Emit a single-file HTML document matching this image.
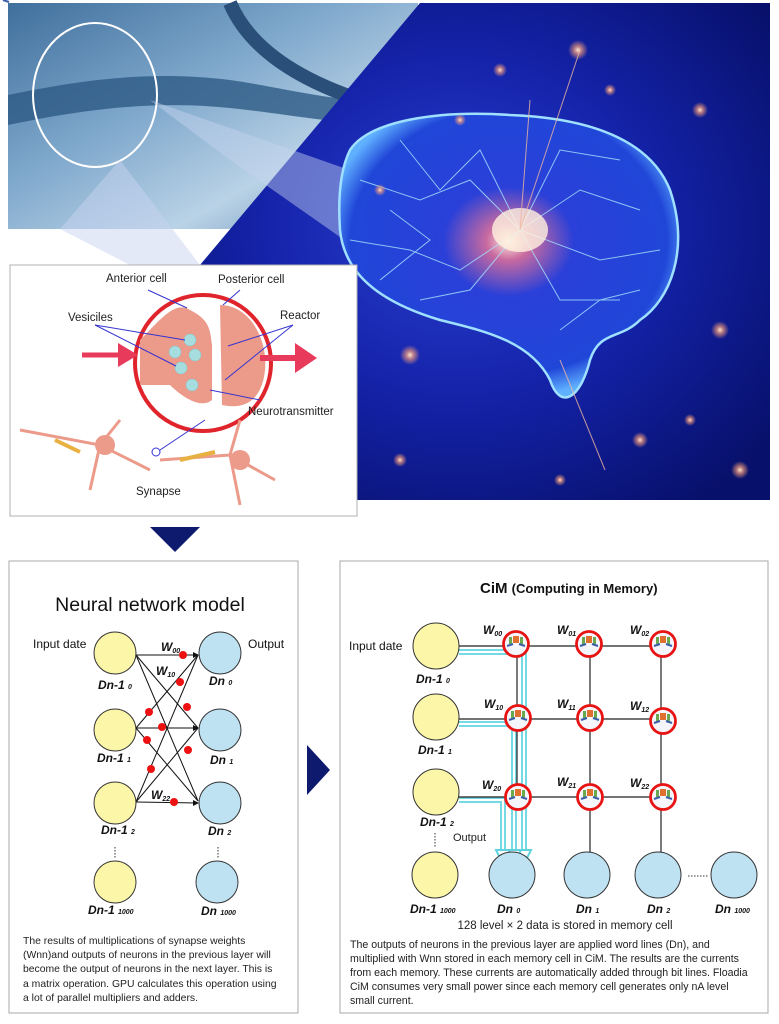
<!DOCTYPE html>
<html><head><meta charset="utf-8"><style>
html,body{margin:0;padding:0;background:#fff;}
svg{display:block;font-family:"Liberation Sans",sans-serif;}
</style></head><body>
<svg width="779" height="1024" viewBox="0 0 779 1024" xmlns="http://www.w3.org/2000/svg">
<defs>
<linearGradient id="nb" x1="0" y1="0" x2="1" y2="1">
<stop offset="0" stop-color="#3f6f9c"/><stop offset="0.4" stop-color="#7fa8cc"/><stop offset="0.7" stop-color="#b9d2e6"/><stop offset="1" stop-color="#5d87b0"/></linearGradient>
<radialGradient id="bb" cx="0.45" cy="0.45" r="0.7">
<stop offset="0" stop-color="#2a3fd0"/><stop offset="0.5" stop-color="#1422a8"/><stop offset="1" stop-color="#07106a"/></radialGradient>
<radialGradient id="brain" cx="0.5" cy="0.45" r="0.55">
<stop offset="0" stop-color="#ffe6d8"/><stop offset="0.12" stop-color="#c86aa0"/><stop offset="0.35" stop-color="#2a40d8"/><stop offset="0.85" stop-color="#2046d8"/><stop offset="1" stop-color="#5fb0ff"/></radialGradient>
<radialGradient id="star"><stop offset="0" stop-color="#ffe9d0"/><stop offset="0.4" stop-color="#f29a7a" stop-opacity="0.7"/><stop offset="1" stop-color="#f29a7a" stop-opacity="0"/></radialGradient>
</defs>
<!-- neuron photo -->
<rect x="8" y="3" width="410" height="226" fill="url(#nb)"/>
<path d="M8,95 C80,80 150,70 230,80 C300,90 360,110 418,95 L418,120 C360,130 300,115 230,108 C150,100 80,110 8,125Z" fill="#2d5a85" opacity="0.8"/>
<path d="M230,3 C250,50 300,80 360,100" stroke="#2a4f78" stroke-width="14" fill="none"/>
<ellipse cx="95" cy="95" rx="62" ry="72" fill="none" stroke="#fff" stroke-width="2"/>
<!-- brain bg -->
<path d="M420,3 L770,3 L770,500 L357,500 L357,265 L200,265 Z" fill="url(#bb)"/>
<path d="M150,100 L520,230 L380,265 L230,160Z" fill="#c8d4f0" opacity="0.45"/>
<path d="M60,229 L120,160 L200,265 L130,265Z" fill="#c8d4f0" opacity="0.5"/>
<path d="M350,150 C370,120 440,110 510,115 C590,118 650,140 670,190 C690,250 670,300 640,320 C620,340 600,330 590,360 C580,400 560,410 550,380 C530,340 480,330 440,320 C390,305 345,280 340,230 C338,200 340,170 350,150Z" fill="url(#brain)" stroke="#9fe0ff" stroke-width="2.5"/>
<g stroke="#a8e4ff" stroke-width="1" fill="none" opacity="0.8">
<path d="M360,180 L420,200 L470,180 L520,230 L580,190 L640,210"/><path d="M350,240 L410,250 L460,270 L520,230 L600,260 L660,250"/><path d="M400,140 L440,190 L480,150 L520,230 L560,150 L620,160"/><path d="M420,300 L470,290 L520,230 L560,300 L620,300"/><path d="M560,330 L600,300 L640,290"/><path d="M380,280 L430,240 L390,210"/></g>
<ellipse cx="520" cy="230" rx="28" ry="22" fill="#fff3e0" opacity="0.8"/>
<g fill="url(#star)">
<circle cx="578" cy="50" r="10"/><circle cx="410" cy="355" r="10"/><circle cx="700" cy="110" r="8"/><circle cx="720" cy="330" r="9"/><circle cx="500" cy="70" r="7"/><circle cx="640" cy="440" r="8"/><circle cx="400" cy="460" r="7"/><circle cx="740" cy="470" r="9"/><circle cx="460" cy="120" r="6"/><circle cx="610" cy="90" r="6"/><circle cx="380" cy="190" r="6"/><circle cx="690" cy="420" r="6"/><circle cx="560" cy="480" r="6"/></g>
<g stroke="#f0b8a0" stroke-width="1" fill="none" opacity="0.8"><path d="M520,230 L580,50"/><path d="M520,230 L530,100"/><path d="M560,360 L605,470"/></g>
<!-- synapse box -->
<rect x="10" y="265" width="347" height="251" fill="#fff" stroke="#b0b0b0"/>
<circle cx="203" cy="363" r="68" fill="none" stroke="#e0242c" stroke-width="4"/>
<path d="M140,340 C160,320 175,300 190,310 C210,320 210,330 212,345 L212,400 C200,410 180,395 170,385 L140,385Z" fill="#ec9a8a"/>
<path d="M220,305 C250,305 268,340 265,370 C262,400 245,410 222,405 Z" fill="#ec9a8a"/>
<g fill="#a8dde0" stroke="#7cc" stroke-width="0.5"><circle cx="190" cy="340" r="6"/><circle cx="175" cy="352" r="6"/><circle cx="195" cy="355" r="6"/><circle cx="181" cy="368" r="6"/><circle cx="192" cy="385" r="6"/></g>
<path d="M82,355 L128,355" stroke="#e83a5a" stroke-width="5"/><path d="M118,343 L138,355 L118,367Z" fill="#e83a5a"/>
<path d="M260,358 L300,358" stroke="#e83a5a" stroke-width="6"/><path d="M295,343 L317,358 L295,373Z" fill="#e83a5a"/>
<g stroke="#3434d0" stroke-width="1" fill="none">
<path d="M148,290 L187,308"/><path d="M240,290 L223,305"/><path d="M95,325 L185,340"/><path d="M95,325 L176,366"/><path d="M293,325 L228,346"/><path d="M293,325 L225,380"/><path d="M260,400 L210,390"/><path d="M205,420 L160,450"/></g>
<circle cx="156" cy="452" r="4" fill="none" stroke="#3434d0"/>
<g stroke="#ec9a8a" stroke-width="3" fill="none"><path d="M20,430 L100,445 L150,470"/><path d="M100,445 L90,490"/><path d="M100,445 L120,420"/><path d="M160,460 L230,455 L275,480"/><path d="M230,455 L240,505"/><path d="M230,455 L240,420"/></g>
<circle cx="105" cy="445" r="10" fill="#ec9a8a"/><circle cx="240" cy="460" r="10" fill="#ec9a8a"/>
<path d="M55,440 L80,452" stroke="#e8b040" stroke-width="4"/><path d="M180,460 L215,452" stroke="#e8b040" stroke-width="4"/>
<g font-size="11.5" fill="#222"><text x="106" y="282">Anterior cell</text><text x="218" y="283">Posterior cell</text><text x="68" y="321">Vesiciles</text><text x="280" y="319">Reactor</text><text x="248" y="415">Neurotransmitter</text><text x="136" y="495">Synapse</text></g>
<path d="M150,527 L200,527 L175,552Z" fill="#0d1a6e"/>
<!-- left panel -->
<rect x="9" y="561" width="289" height="452" fill="#fff" stroke="#a8a8a8"/>
<text x="150" y="611" font-size="19.5" text-anchor="middle" fill="#111">Neural network model</text>
<text x="33" y="648" font-size="12" fill="#111">Input date</text><text x="248" y="648" font-size="12" fill="#111">Output</text>
<g stroke="#111" stroke-width="1">
<line x1="136" y1="655" x2="198" y2="655"/><line x1="136" y1="655" x2="198" y2="728"/><line x1="136" y1="655" x2="198" y2="801"/>
<line x1="136" y1="728" x2="198" y2="655"/><line x1="136" y1="728" x2="198" y2="728"/><line x1="136" y1="728" x2="198" y2="801"/>
<line x1="136" y1="802" x2="198" y2="655"/><line x1="136" y1="802" x2="198" y2="728"/><line x1="136" y1="802" x2="198" y2="803"/></g>
<g fill="#111"><path d="M199,655 l-6,-3 v6z"/><path d="M199,728 l-6,-3 v6z"/><path d="M199,803 l-6,-3 v6z"/></g>
<g fill="#ee1111"><circle cx="183" cy="655" r="4"/><circle cx="180" cy="682" r="4"/><circle cx="187" cy="707" r="4"/><circle cx="149" cy="712" r="4"/><circle cx="162" cy="727" r="4"/><circle cx="147" cy="740" r="4"/><circle cx="188" cy="750" r="4"/><circle cx="151" cy="769" r="4"/><circle cx="174" cy="802" r="4"/></g>
<g stroke="#333" stroke-width="1"><circle cx="115" cy="653" r="21" fill="#fbf6a8"/><circle cx="115" cy="730" r="21" fill="#fbf6a8"/><circle cx="115" cy="803" r="21" fill="#fbf6a8"/><circle cx="115" cy="882" r="21" fill="#fbf6a8"/>
<circle cx="220" cy="653" r="21" fill="#bfe2f2"/><circle cx="220" cy="730" r="21" fill="#bfe2f2"/><circle cx="220" cy="803" r="21" fill="#bfe2f2"/><circle cx="217" cy="882" r="21" fill="#bfe2f2"/></g>
<g stroke="#333" stroke-dasharray="1.5,1.5"><line x1="115" y1="847" x2="115" y2="858"/><line x1="218" y1="847" x2="218" y2="858"/></g>
<g font-size="12" font-weight="bold" font-style="italic" fill="#111">
<text x="98" y="689">Dn-1 <tspan font-size="7">0</tspan></text><text x="97" y="762">Dn-1 <tspan font-size="7">1</tspan></text><text x="101" y="834">Dn-1 <tspan font-size="7">2</tspan></text><text x="88" y="914">Dn-1 <tspan font-size="7">1000</tspan></text>
<text x="209" y="685">Dn <tspan font-size="7">0</tspan></text><text x="210" y="764">Dn <tspan font-size="7">1</tspan></text><text x="208" y="835">Dn <tspan font-size="7">2</tspan></text><text x="201" y="915">Dn <tspan font-size="7">1000</tspan></text>
<text x="161" y="651">W<tspan font-size="7" dy="2">00</tspan></text><text x="156" y="675">W<tspan font-size="7" dy="2">10</tspan></text><text x="151" y="799">W<tspan font-size="7" dy="2">22</tspan></text></g>
<g font-size="10.4" fill="#222"><text x="23" y="944">The results of multiplications of synapse weights</text><text x="23" y="958">(Wnn)and outputs of neurons in the previous layer will</text><text x="23" y="972">become the output of neurons in the next layer. This is</text><text x="23" y="987">a matrix operation. GPU calculates this operation using</text><text x="23" y="1001">a lot of parallel multipliers and adders.</text></g>
<path d="M307,745 L330,770 L307,795Z" fill="#0d1a6e"/>
<!-- right panel -->
<rect x="340" y="561" width="428" height="452" fill="#fff" stroke="#a8a8a8"/>
<text x="480" y="593" font-size="15" font-weight="bold" fill="#111">CiM <tspan font-size="13">(Computing in Memory)</tspan></text>
<text x="349" y="650" font-size="12" fill="#111">Input date</text>
<g fill="none" stroke="#5fd4e0" stroke-width="6" opacity="0.85"><path d="M459,652 L524,652 L524,850"/><path d="M459,724 L514,724 L514,850"/><path d="M459,800 L503,800 L503,850"/></g>
<g fill="none" stroke="#fff" stroke-width="2"><path d="M459,652 L524,652 L524,850"/><path d="M459,724 L514,724 L514,850"/><path d="M459,800 L503,800 L503,850"/></g>
<g fill="#fff" stroke="#5fd4e0" stroke-width="2"><path d="M517,850 L531,850 L524,864Z"/><path d="M507,850 L521,850 L514,864Z"/><path d="M496,850 L510,850 L503,864Z"/></g>
<g stroke="#222" stroke-width="1.2" fill="none">
<line x1="459" y1="646" x2="663" y2="646"/><line x1="459" y1="719" x2="663" y2="719"/><line x1="459" y1="797" x2="663" y2="797"/>
<line x1="517" y1="646" x2="517" y2="797"/><line x1="590" y1="646" x2="590" y2="852"/><line x1="661" y1="646" x2="661" y2="852"/></g>
<g stroke="#e81414" stroke-width="2.8" fill="#f4f6fb">
<circle cx="516" cy="644" r="12.5"/><circle cx="589" cy="644" r="12.5"/><circle cx="663" cy="644" r="12.5"/>
<circle cx="518" cy="718" r="12.5"/><circle cx="590" cy="718" r="12.5"/><circle cx="663" cy="721" r="12.5"/>
<circle cx="518" cy="797" r="12.5"/><circle cx="590" cy="797" r="12.5"/><circle cx="663" cy="797" r="12.5"/></g>
<g>
<g id="ic"><rect x="-3" y="-8" width="6" height="7" fill="#e07030"/><rect x="-7" y="-7" width="3" height="7" fill="#6aa84f"/><rect x="4" y="-7" width="3" height="7" fill="#6aa84f"/><path d="M-9,2 L-3,0 M9,2 L3,0" stroke="#3a5ea8" stroke-width="2"/></g>
</g>
<use href="#ic" x="516" y="644"/><use href="#ic" x="589" y="644"/><use href="#ic" x="663" y="644"/><use href="#ic" x="518" y="718"/><use href="#ic" x="590" y="718"/><use href="#ic" x="663" y="721"/><use href="#ic" x="518" y="797"/><use href="#ic" x="590" y="797"/><use href="#ic" x="663" y="797"/>
<g stroke="#333" stroke-width="1"><circle cx="436" cy="646" r="23" fill="#fbf6a8"/><circle cx="436" cy="717" r="23" fill="#fbf6a8"/><circle cx="436" cy="792" r="23" fill="#fbf6a8"/><circle cx="435" cy="875" r="23" fill="#fbf6a8"/>
<circle cx="512" cy="875" r="23" fill="#bfe2f2"/><circle cx="587" cy="875" r="23" fill="#bfe2f2"/><circle cx="658" cy="875" r="23" fill="#bfe2f2"/><circle cx="734" cy="875" r="23" fill="#bfe2f2"/></g>
<g stroke="#333" stroke-dasharray="1.5,1.5"><line x1="435" y1="833" x2="435" y2="848"/><line x1="688" y1="876" x2="708" y2="876"/></g>
<text x="453" y="841" font-size="11" fill="#222">Output</text>
<g font-size="12" font-weight="bold" font-style="italic" fill="#111">
<text x="416" y="683">Dn-1 <tspan font-size="7">0</tspan></text><text x="418" y="754">Dn-1 <tspan font-size="7">1</tspan></text><text x="420" y="826">Dn-1 <tspan font-size="7">2</tspan></text><text x="410" y="913">Dn-1 <tspan font-size="7">1000</tspan></text>
<text x="497" y="913">Dn <tspan font-size="7">0</tspan></text><text x="576" y="913">Dn <tspan font-size="7">1</tspan></text><text x="647" y="913">Dn <tspan font-size="7">2</tspan></text><text x="715" y="913">Dn <tspan font-size="7">1000</tspan></text>
<text x="483" y="634">W<tspan font-size="7" dy="2">00</tspan></text><text x="557" y="634">W<tspan font-size="7" dy="2">01</tspan></text><text x="630" y="634">W<tspan font-size="7" dy="2">02</tspan></text>
<text x="484" y="708">W<tspan font-size="7" dy="2">10</tspan></text><text x="557" y="708">W<tspan font-size="7" dy="2">11</tspan></text><text x="630" y="710">W<tspan font-size="7" dy="2">12</tspan></text>
<text x="482" y="789">W<tspan font-size="7" dy="2">20</tspan></text><text x="557" y="786">W<tspan font-size="7" dy="2">21</tspan></text><text x="630" y="787">W<tspan font-size="7" dy="2">22</tspan></text></g>
<text x="565" y="929" font-size="11.5" text-anchor="middle" fill="#222">128 level × 2 data is stored in memory cell</text>
<g font-size="10.6" fill="#222"><text x="350" y="948">The outputs of neurons in the previous layer are applied word lines (Dn), and</text><text x="350" y="962">multiplied with Wnn stored in each memory cell in CiM. The results are the currents</text><text x="350" y="976">from each memory. These currents are automatically added through bit lines. Floadia</text><text x="350" y="990">CiM consumes very small power since each memory cell generates only nA level</text><text x="350" y="1004">small current.</text></g>
</svg>
</body></html>
